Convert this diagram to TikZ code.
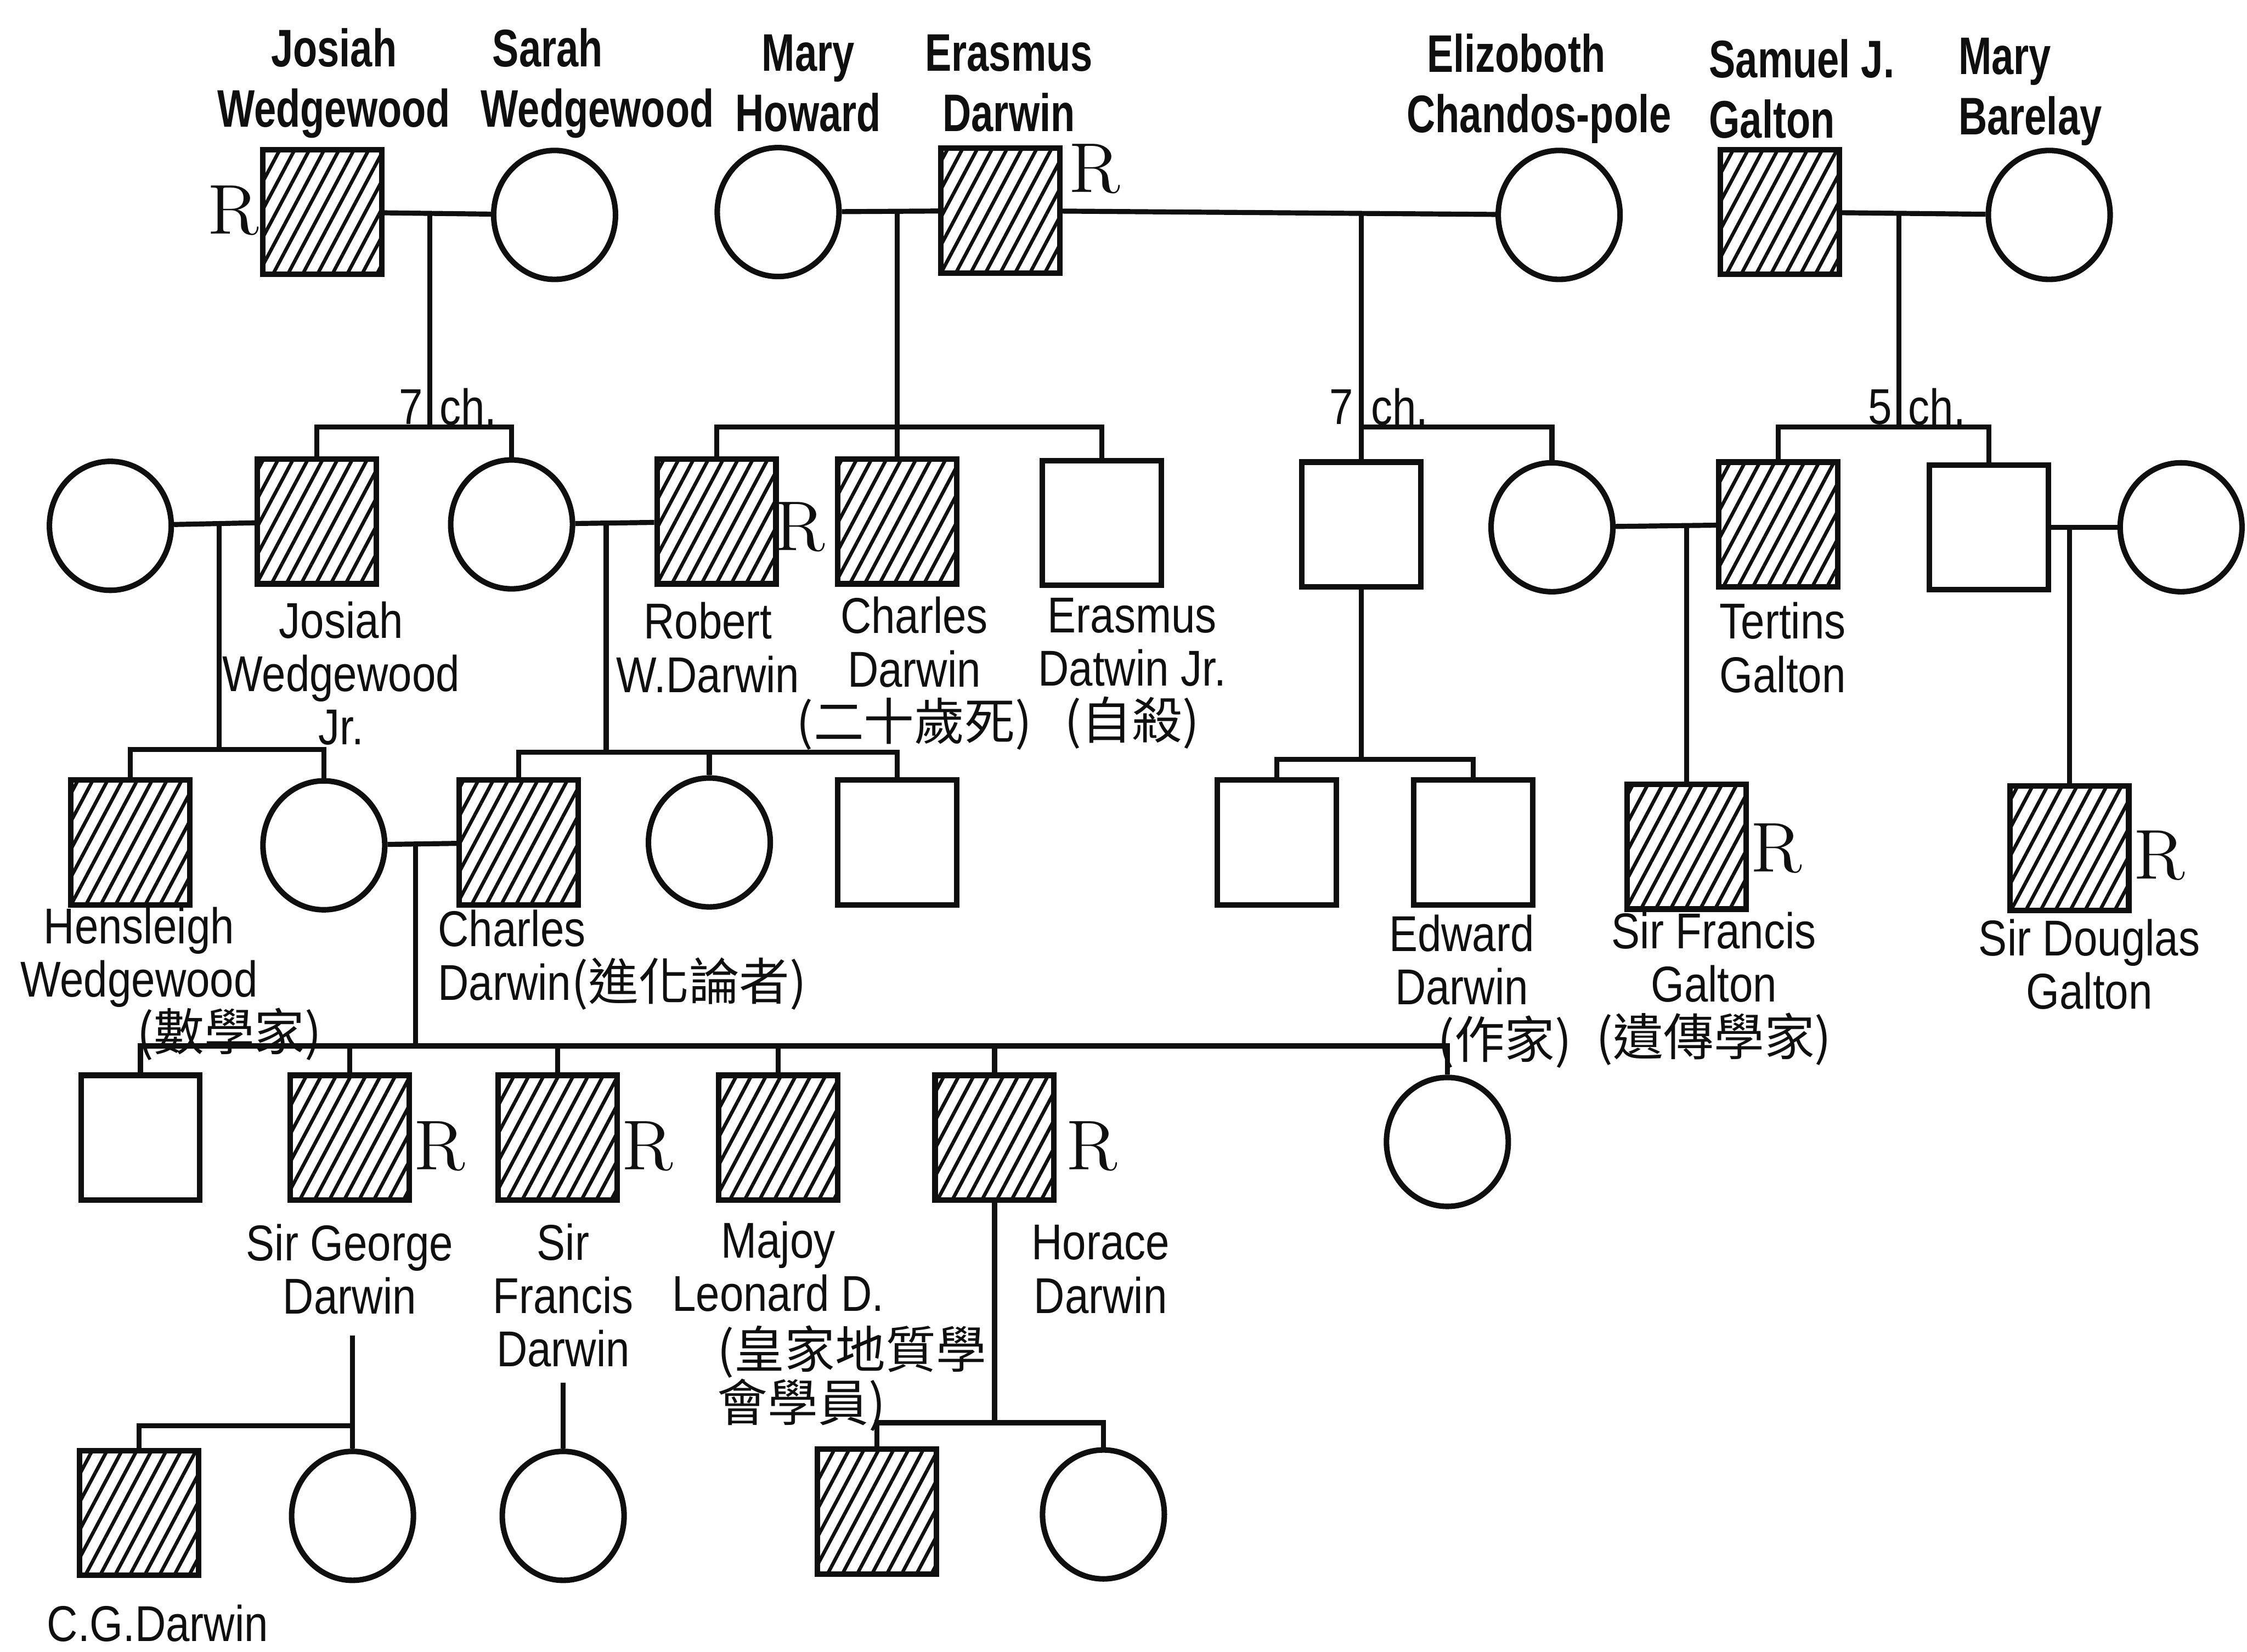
\documentclass[tikz,border=0pt]{standalone}
\usepackage{fontspec}
\usepackage{xcolor}
\usepackage{tikz}
\usetikzlibrary{shapes.geometric, patterns.meta, calc}
\newfontfamily\labfont[FakeStretch=0.85]{Liberation Sans}
\newfontfamily\toplabfont[FakeStretch=0.75]{Liberation Sans}
\newfontfamily\cjkfont{Noto Sans CJK TC}
\newcommand{\zhtxt}[1]{{\cjkfont #1}}
\definecolor{inkblack}{RGB}{15,15,15}
\tikzset{
  male/.style={rectangle, draw=inkblack, line width=1.1pt,
    minimum width=8.3mm, minimum height=8.7mm, inner sep=0pt},
  female/.style={ellipse, draw=inkblack, line width=1.1pt,
    minimum width=8.5mm, minimum height=9mm, inner sep=0pt},
  affect/.style={pattern={Lines[angle=62, distance=2.6pt, line width=0.7pt]},
    pattern color=inkblack},
  line/.style={line width=1pt, color=inkblack},
  namelab/.style={font=\labfont\fontsize{10}{10.6}\selectfont, align=center,
    inner sep=0pt, text=inkblack},
  rmark/.style={font=\fontsize{14}{14}\selectfont, inner sep=0pt, text=inkblack}
}

\begin{document}
\begin{tikzpicture}[x=0.1mm, y=-0.1mm,
  toplab/.style={namelab, font=\toplabfont\bfseries\fontsize{10.5}{12}\selectfont}]
  \useasboundingbox (0,0) rectangle (1568,1153);

  % Generation I
  \node[male, affect] (jw) at (225,148) {};
  \node[female] (sw) at (387,150) {};
  \node[female] (mh) at (543,148) {};
  \node[male, affect] (ed) at (698,147) {};
  \node[female] (ec) at (1088,150) {};
  \node[male, affect] (sg) at (1242,148) {};
  \node[female] (mb) at (1430,150) {};

  % Generation II
  \node[female] (jwjw) at (77,367) {};
  \node[male, affect] (jwj) at (221,364) {};
  \node[female] (sus) at (357,366) {};
  \node[male, affect] (rwd) at (500,364) {};
  \node[male, affect] (cd1) at (626,364) {};
  \node[male] (edj) at (769,365) {};
  \node[male] (ecs) at (950,366) {};
  \node[female] (vio) at (1083,368) {};
  \node[male, affect] (tg) at (1241,366) {};
  \node[male] (gs) at (1388,368) {};
  \node[female] (gsw) at (1522,368) {};

  % Generation III
  \node[male, affect] (hw) at (91,588) {};
  \node[female] (emw) at (226,590) {};
  \node[male, affect] (cd) at (362,588) {};
  \node[female] (rd1) at (495,588) {};
  \node[male] (rd2) at (626,588) {};
  \node[male] (ed1) at (891,588) {};
  \node[male] (edw) at (1028,588) {};
  \node[male, affect] (fg) at (1177,591) {};
  \node[male, affect] (dg) at (1444,592) {};

  % Generation IV
  \node[male] (cd0) at (98,794) {};
  \node[male, affect] (gd) at (244,794) {};
  \node[male, affect] (fd) at (389,794) {};
  \node[male, affect] (ld) at (543,794) {};
  \node[male, affect] (hd) at (694,794) {};
  \node[female] (cdd) at (1010,797) {};

  % Generation V
  \node[male, affect] (cgd) at (97,1056) {};
  \node[female] (gdd) at (246,1058) {};
  \node[female] (fdd) at (393,1058) {};
  \node[male, affect] (hds) at (612,1055) {};
  \node[female] (hdd) at (770,1057) {};

  % R marks
  \node[rmark] (r1) at (163,147) {R};
  \node[rmark] (r2) at (764,118) {R};
  \node[rmark] (r3) at (558,368) {R};
  \node[rmark] (r4) at (1240,592) {R};
  \node[rmark] (r5) at (1507,597) {R};
  \node[rmark] (r6) at (307,800) {R};
  \node[rmark] (r7) at (452,800) {R};
  \node[rmark] (r8) at (762,800) {R};

  % Marriages
  \draw[line] (jw) -- (sw);
  \draw[line] (mh) -- (ed);
  \draw[line] (ed) -- (ec);
  \draw[line] (sg) -- (mb);
  \draw[line] (jwjw) -- (jwj);
  \draw[line] (sus) -- (rwd);
  \draw[line] (vio) -- (tg);
  \draw[line] (gs) -- (gsw);
  \draw[line] (emw) -- (cd);

  % Descent
  \coordinate (m1) at (300,149);
  \coordinate (b1) at (300,298);
  \draw[line] (m1) -- (b1);
  \draw[line] (jwj.north) |- (b1) -| (sus.north);

  \coordinate (m2) at (626,147);
  \coordinate (b2) at (626,298);
  \draw[line] (m2) -- (cd1.north);
  \draw[line] (rwd.north) |- (b2) -| (edj.north);

  \coordinate (m3) at (950,148);
  \coordinate (b3) at (950,298);
  \draw[line] (m3) -- (ecs.north);
  \draw[line] (b3) -| (vio.north);

  \coordinate (m4) at (1325,149);
  \coordinate (b4) at (1325,298);
  \draw[line] (m4) -- (b4);
  \draw[line] (tg.north) |- (b4) -| (gs.north);

  \coordinate (m5) at (153,366);
  \coordinate (b5) at (153,523);
  \draw[line] (m5) -- (b5);
  \draw[line] (hw.north) |- (b5) -| (emw.north);

  \coordinate (m6) at (423,365);
  \coordinate (b6) at (423,525);
  \draw[line] (m6) -- (b6);
  \draw[line] (cd.north) |- (b6) -| (rd2.north);
  \draw[line] (rd1.north) -- (rd1.north |- b6);

  \coordinate (b7) at (950,530);
  \draw[line] (ecs.south) -- (b7);
  \draw[line] (ed1.north) |- (b7) -| (edw.north);

  \coordinate (m8) at (1177,367);
  \draw[line] (m8) -- (fg.north);

  \coordinate (m9) at (1444,368);
  \draw[line] (m9) -- (dg.north);

  \coordinate (m10) at (290,589);
  \coordinate (b10) at (290,730);
  \draw[line] (m10) -- (b10);
  \draw[line] (cd0.north) |- (b10) -| (cdd.north);
  \foreach \k in {gd, fd, ld, hd}
    \draw[line] (\k.north) -- (\k.north |- b10);

  \coordinate (g1) at (246,932);
  \coordinate (b11) at (246,995);
  \draw[line] (g1) -- (gdd.north);
  \draw[line] (b11) -| (cgd.north);

  \coordinate (f1) at (393,965);
  \draw[line] (f1) -- (fdd.north);

  \coordinate (b13) at (694,993);
  \draw[line] (hd.south) -- (b13);
  \draw[line] (hds.north) |- (b13) -| (hdd.north);

  % Counts
  \node[namelab, anchor=east] (c1a) at (296,284) {7};
  \node[namelab, anchor=west] (c1b) at (306,284) {ch.};
  \node[namelab, anchor=east] (c3a) at (945,284) {7};
  \node[namelab, anchor=west] (c3b) at (956,284) {ch.};
  \node[namelab, anchor=east] (c4a) at (1321,284) {5};
  \node[namelab, anchor=west] (c4b) at (1331,284) {ch.};

  % Names, generation I
  \node[toplab] (t1) at (233,58) {Josiah\\Wedgewood};
  \node[toplab, align=left, anchor=west] (t2) at (335,58) {\hspace*{0.8mm}Sarah\\Wedgewood};
  \node[toplab] (t3) at (564,58) {Mary\\Howard};
  \node[toplab] (t4) at (704,58) {Erasmus\\Darwin};
  \node[toplab, align=left, anchor=west] (t5) at (981,62) {\hspace*{1.4mm}Elizoboth\\Chandos-pole};
  \node[toplab, align=left, anchor=west] (t6) at (1192,62) {Samuel J.\\Galton};
  \node[toplab, align=left, anchor=west] (t7) at (1366,64) {Mary\\Barelay};

  % Names, generation II
  \node[namelab] (t8) at (238,470) {Josiah\\Wedgewood\\Jr.};
  \node[namelab] (t9) at (494,452) {Robert\\W.Darwin};
  \node[namelab] (t10) at (638,470) {Charles\\Darwin\\\zhtxt{(二十歲死)}};
  \node[namelab] (t11) at (790,470) {Erasmus\\Datwin Jr.\\\zhtxt{(自殺)}};
  \node[namelab] (t12) at (1244,452) {Tertins\\Galton};

  % Names, generation III
  \node[namelab] (t13) at (97,668) {Hensleigh\\Wedgewood};
  \node[namelab] (t14) at (160,722) {\zhtxt{(數學家)}};
  \node[namelab, align=left, anchor=west] (t15) at (305,670) {Charles\\Darwin\zhtxt{(進化論者)}};
  \node[namelab] (t16) at (1020,670) {Edward\\Darwin};
  \node[namelab] (t17) at (1050,727) {\zhtxt{(作家)}};
  \node[namelab] (t18) at (1196,690) {Sir Francis\\Galton\\\zhtxt{(遺傳學家)}};
  \node[namelab] (t19) at (1458,673) {Sir Douglas\\Galton};

  % Names, generation IV
  \node[namelab] (t20) at (244,886) {Sir George\\Darwin};
  \node[namelab] (t21) at (393,904) {Sir\\Francis\\Darwin};
  \node[namelab] (t22) at (543,884) {Majoy\\Leonard D.};
  \node[namelab, align=left, anchor=west] (t23) at (500,962) {\zhtxt{(皇家地質學}\\\zhtxt{會學員)}};
  \node[namelab] (t24) at (768,886) {Horace\\Darwin};

  % Names, generation V
  \node[namelab] (t25) at (110,1133) {C.G.Darwin};
\end{tikzpicture}
\end{document}
